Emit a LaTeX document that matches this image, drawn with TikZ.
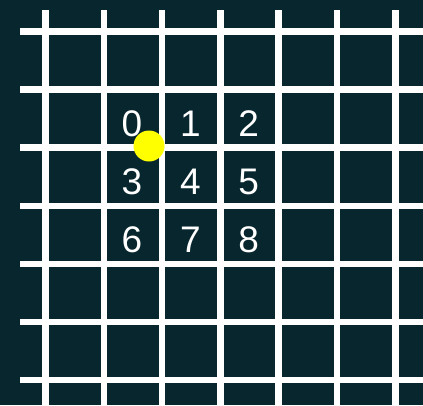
\documentclass[tikz,border=0pt]{standalone}
\usepackage{fontspec}
\setmainfont{Liberation Sans}
\begin{document}
\begin{tikzpicture}[x=1pt,y=-1pt]
  \definecolor{board}{HTML}{08262E}
  \definecolor{marker}{HTML}{FFFF00}
  \def\gap{58.3}
  \fill[board] (0,0) rectangle (423,405);
  \useasboundingbox (0,0) rectangle (423,405);
  % Seven lines each way; they run off the right and bottom edges.
  \foreach \i in {0,...,6} {
    \draw[white,line width=6.5pt] (45.5+\i*\gap,10) -- (45.5+\i*\gap,405);
    \draw[white,line width=6.5pt] (20,31.5+\i*58.1) -- (423,31.5+\i*58.1);
  }

  \tikzset{cell/.style={text=white,font=\fontsize{37}{37}\selectfont,inner sep=0pt}}
  \foreach \n in {0,...,8} {
    \pgfmathtruncatemacro{\col}{mod(\n,3)}
    \pgfmathtruncatemacro{\row}{\n/3}
    \node[cell] (d\n) at (132+\col*\gap,123.5+\row*58.1) {\n};
  }
  \node[circle,fill=marker,inner sep=0pt,minimum size=31pt] (dot) at (149,146) {};
\end{tikzpicture}
\end{document}
